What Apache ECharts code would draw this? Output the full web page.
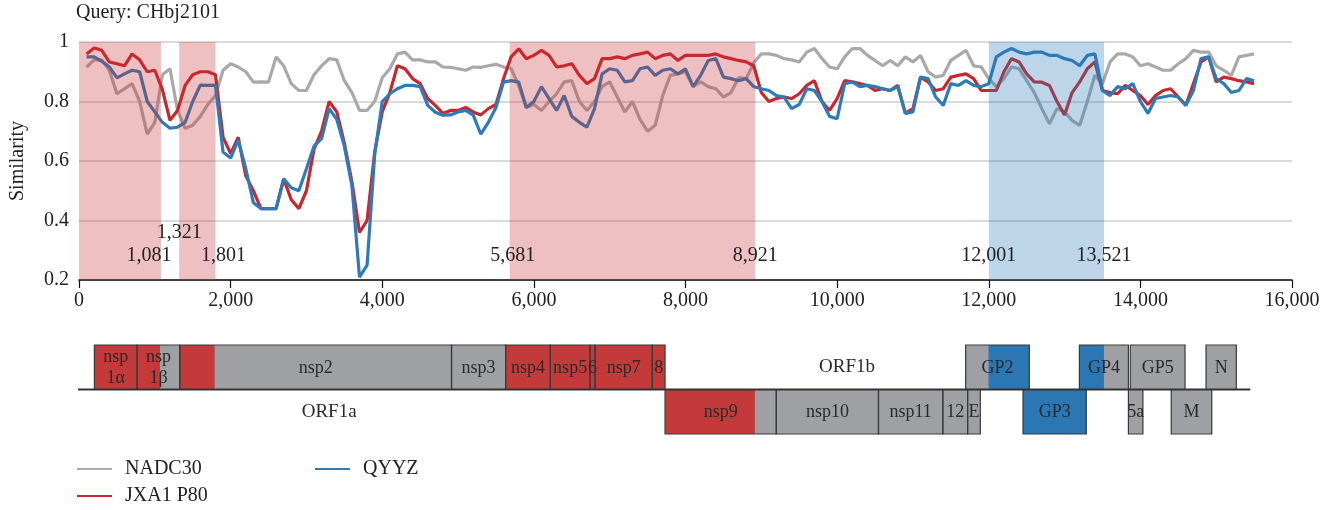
<!DOCTYPE html>
<html>
<head>
<meta charset="utf-8">
<script src="https://cdn.jsdelivr.net/npm/echarts@6/dist/echarts.min.js"></script>
<style>
  html, body { margin: 0; padding: 0; background: #fff; }
</style>
</head>
<body>
<div id="main" style="width: 1336px;height:510px;"></div>

<script type="text/javascript">
  var FONT = 'Liberation Serif';

  // genome positions of the similarity windows
  var positions = [
    100, 200, 300, 400, 500, 600, 700, 800, 900, 1000,
    1100, 1200, 1300, 1400, 1500, 1600, 1700, 1800, 1900, 2000,
    2100, 2200, 2300, 2400, 2500, 2600, 2700, 2800, 2900, 3000,
    3100, 3200, 3300, 3400, 3500, 3600, 3700, 3800, 3900, 4000,
    4100, 4200, 4300, 4400, 4500, 4600, 4700, 4800, 4900, 5000,
    5100, 5200, 5300, 5400, 5500, 5600, 5700, 5800, 5900, 6000,
    6100, 6200, 6300, 6400, 6500, 6600, 6700, 6800, 6900, 7000,
    7100, 7200, 7300, 7400, 7500, 7600, 7700, 7800, 7900, 8000,
    8100, 8200, 8300, 8400, 8500, 8600, 8700, 8800, 8900, 9000,
    9100, 9200, 9300, 9400, 9500, 9600, 9700, 9800, 9900, 10000,
    10100, 10200, 10300, 10400, 10500, 10600, 10700, 10800, 10900, 11000,
    11100, 11200, 11300, 11400, 11500, 11600, 11700, 11800, 11900, 12000,
    12100, 12200, 12300, 12400, 12500, 12600, 12700, 12800, 12900, 13000,
    13100, 13200, 13300, 13400, 13500, 13600, 13700, 13800, 13900, 14000,
    14100, 14200, 14300, 14400, 14500, 14600, 14700, 14800, 14900, 15000,
    15100, 15200, 15300, 15400, 15500];

  var nadc30 = [
    .916, .94, .94, .905, .826, .843, .86, .80, .69, .73,
    .89, .91, .77, .71, .72, .75, .79, .82, .905, .927,
    .916, .90, .865, .866, .865, .95, .92, .86, .837, .837,
    .89, .92, .944, .94, .87, .83, .77, .77, .80, .88,
    .91, .96, .966, .94, .94, .933, .933, .916, .915, .91,
    .905, .916, .915, .92, .925, .916, .91, .854, .78, .79,
    .77, .80, .826, .866, .87, .80, .77, .80, .85, .866,
    .815, .765, .80, .74, .70, .72, .82, .888, .893, .90,
    .85, .866, .85, .843, .815, .83, .88, .877, .93, .96,
    .96, .955, .944, .94, .933, .966, .978, .944, .916, .91,
    .95, .978, .978, .955, .938, .92, .938, .92, .95, .933,
    .955, .90, .882, .888, .938, .955, .972, .92, .916, .877,
    .85, .877, .916, .91, .87, .83, .776, .725, .776, .765,
    .736, .72, .80, .888, .86, .933, .96, .96, .95, .92,
    .927, .916, .905, .905, .927, .944, .972, .966, .966, .92,
    .905, .888, .95, .955, .96];

  var jxa1 = [
    .96, .98, .972, .933, .927, .92, .96, .94, .90, .905,
    .84, .737, .77, .854, .89, .90, .90, .89, .68, .625,
    .68, .55, .50, .44, .44, .44, .54, .47, .44, .50,
    .64, .70, .80, .765, .66, .53, .36, .40, .63, .765,
    .83, .92, .91, .877, .86, .81, .787, .76, .77, .77,
    .78, .765, .755, .776, .79, .877, .95, .977, .944, .955,
    .972, .955, .916, .92, .927, .888, .86, .877, .944, .944,
    .95, .944, .955, .96, .966, .944, .955, .96, .938, .955,
    .955, .955, .955, .96, .95, .944, .938, .933, .92, .83,
    .80, .81, .815, .81, .826, .854, .87, .80, .77, .81,
    .87, .866, .86, .854, .837, .843, .837, .854, .76, .776,
    .882, .866, .837, .843, .882, .888, .893, .877, .837, .837,
    .837, .90, .944, .933, .893, .866, .865, .854, .80, .755,
    .83, .866, .91, .933, .837, .83, .826, .854, .837, .82,
    .79, .82, .837, .843, .815, .787, .86, .933, .95, .866,
    .882, .877, .87, .866, .86];

  var qyyz = [
    .95, .95, .935, .916, .88, .893, .905, .90, .80, .765,
    .73, .71, .714, .73, .80, .855, .854, .855, .63, .61,
    .67, .574, .46, .44, .44, .44, .54, .51, .50, .574,
    .65, .675, .776, .74, .65, .517, .21, .25, .62, .80,
    .826, .843, .854, .854, .85, .787, .764, .754, .755, .765,
    .77, .754, .69, .73, .78, .865, .87, .865, .78, .80,
    .85, .81, .77, .82, .75, .73, .714, .776, .893, .91,
    .905, .866, .87, .91, .916, .888, .905, .91, .893, .91,
    .85, .888, .938, .944, .882, .877, .87, .877, .85, .843,
    .837, .82, .815, .776, .79, .843, .837, .80, .75, .742,
    .86, .866, .85, .854, .85, .843, .837, .85, .76, .765,
    .882, .877, .815, .787, .86, .854, .87, .854, .85, .86,
    .95, .966, .978, .966, .96, .966, .966, .955, .955, .944,
    .938, .92, .955, .96, .837, .82, .85, .843, .86, .80,
    .76, .81, .815, .82, .815, .787, .837, .944, .95, .877,
    .86, .83, .837, .877, .87];

  // recombination regions: start, end, parent
  var regionStart = [0, 1321, 5681, 12001];
  var regionEnd = [1081, 1801, 8921, 13521];
  var regionParent = ['JXA1', 'JXA1', 'JXA1', 'QYYZ'];

  // breakpoint labels
  var breakPos = [1081, 1321, 1801, 5681, 8921, 12001, 13521];
  var breakLabelY = [0.281, 0.358, 0.281, 0.281, 0.281, 0.281, 0.281];
  var breakShift = [-12, 0, 8, 3, 0, 0, 0];

  // genome map
  var geneNames = ['nsp\n1α', 'nsp\n1β', 'nsp2', 'nsp3', 'nsp4', 'nsp5', '6', 'nsp7', '8', 'nsp9', 'nsp10', 'nsp11', '12', 'E',
    'GP2', 'GP3', 'GP4', 'GP5', '5a', 'M', 'N'];
  var geneStart = [216, 779, 1342, 4923, 5636, 6225, 6747, 6814, 7569, 7737, 9203, 10550, 11398, 11725,
    11699, 12455, 13198, 13869, 13844, 14408, 14867];
  var geneEnd = [779, 1342, 4923, 5636, 6225, 6747, 6814, 7569, 7737, 9203, 10550, 11398, 11725, 11892,
    12538, 13289, 13844, 14590, 14035, 14943, 15266];
  var geneRow = [0, 0, 0, 0, 0, 0, 0, 0, 0, 1, 1, 1, 1, 1, 0, 1, 0, 0, 1, 1, 0];

  var hlStart = [216, 1342, 5636, 7737, 12001, 12455, 13198];
  var hlEnd = [1081, 1801, 7737, 8921, 12538, 13289, 13521];
  var hlRow = [0, 0, 0, 1, 0, 1, 0];
  var hlParent = ['JXA1', 'JXA1', 'JXA1', 'JXA1', 'QYYZ', 'QYYZ', 'QYYZ'];

  var orfNames = ['ORF1a', 'ORF1b'];
  var orfPos = [3310, 10135];
  var orfRow = [1, 0];
  var genomeEnd = 15450;

  var colors = { NADC30: '#a9a9ab', JXA1: '#c8282d', QYYZ: '#2e7bb7' };
  var shade = { JXA1: 'rgba(200,45,50,0.3)', QYYZ: 'rgba(40,120,180,0.31)' };
  var mapFill = { gray: '#9fa0a4', JXA1: '#c43a3a', QYYZ: '#2a77b3' };

  function pairs(vals) {
    return positions.map(function (p, i) { return [p, vals[i]]; });
  }

  var lineStyle = function (c) {
    return { type: 'line', symbol: 'none', color: c, lineStyle: { width: 3.2, color: c }, xAxisIndex: 0, yAxisIndex: 0 };
  };

  var sNadc = lineStyle(colors.NADC30); sNadc.name = 'NADC30'; sNadc.data = pairs(nadc30);
  var sJxa = lineStyle(colors.JXA1); sJxa.name = 'JXA1 P80'; sJxa.data = pairs(jxa1);
  var sQyyz = lineStyle(colors.QYYZ); sQyyz.name = 'QYYZ'; sQyyz.data = pairs(qyyz);

  var legendText = { fontFamily: FONT, fontSize: 20, color: '#222', padding: [0, 0, 0, 8] };

  var option = {
    animation: false,
    title: {
      text: 'Query: CHbj2101', left: 71, top: -2,
      textStyle: { fontFamily: FONT, fontSize: 20, fontWeight: 'normal', color: '#222' }
    },
    legend: [
      { data: ['NADC30'], left: 77, top: 459, padding: 0, icon: 'rect', itemWidth: 35, itemHeight: 2, textStyle: legendText },
      { data: ['QYYZ'], left: 315, top: 459, padding: 0, icon: 'rect', itemWidth: 35, itemHeight: 2, textStyle: legendText },
      { data: ['JXA1 P80'], left: 77, top: 486, padding: 0, icon: 'rect', itemWidth: 35, itemHeight: 2, textStyle: legendText }
    ],
    grid: [
      { left: 78, right: 44, top: 42, bottom: 230 },
      { left: 78, right: 44, top: 345, height: 89 }
    ],
    xAxis: [
      {
        type: 'value', min: 0, max: 16000, interval: 2000, gridIndex: 0,
        axisLine: { lineStyle: { color: '#111', width: 1.5 } },
        axisTick: { show: true, length: 8, lineStyle: { color: '#111', width: 1.2 } },
        axisLabel: {
          fontFamily: FONT, fontSize: 20, color: '#222', margin: 11,
          formatter: function (v) { return v.toLocaleString('en-US'); }
        },
        splitLine: { show: false }
      },
      { type: 'value', min: 0, max: 16000, gridIndex: 1, show: false }
    ],
    yAxis: [
      {
        type: 'value', min: 0.2, max: 1, interval: 0.2, gridIndex: 0,
        name: 'Similarity', nameLocation: 'middle', nameGap: 51, nameRotate: 90,
        nameTextStyle: { fontFamily: FONT, fontSize: 20, color: '#222' },
        axisLine: { show: false },
        axisTick: { show: false },
        axisLabel: {
          fontFamily: FONT, fontSize: 20, color: '#222', margin: 10,
          formatter: function (v) { return String(+v.toFixed(1)); }
        },
        splitLine: { lineStyle: { color: '#dadada', width: 2 } }
      },
      { type: 'value', min: 0, max: 2, inverse: true, gridIndex: 1, show: false }
    ],
    series: [
      sNadc, sJxa, sQyyz,
      {
        // shaded recombination regions, drawn over the lines
        type: 'custom', xAxisIndex: 0, yAxisIndex: 0, z: 10, silent: true,
        data: regionStart.map(function (s, i) { return [s, regionEnd[i]]; }),
        renderItem: function (params, api) {
          var p0 = api.coord([api.value(0), 1]);
          var p1 = api.coord([api.value(1), 0.2]);
          return {
            type: 'rect',
            shape: { x: p0[0], y: p0[1], width: p1[0] - p0[0], height: p1[1] - p0[1] },
            style: { fill: shade[regionParent[params.dataIndex]] }
          };
        }
      },
      {
        // breakpoint labels
        type: 'custom', xAxisIndex: 0, yAxisIndex: 0, z: 11, silent: true,
        data: breakPos.map(function (p, i) { return [p, breakLabelY[i]]; }),
        renderItem: function (params, api) {
          var p = api.coord([api.value(0), api.value(1)]);
          return {
            type: 'text',
            style: {
              x: p[0] + breakShift[params.dataIndex], y: p[1],
              text: breakPos[params.dataIndex].toLocaleString('en-US'),
              textAlign: 'center', textVerticalAlign: 'middle',
              font: '20px "' + FONT + '"', fill: '#222'
            }
          };
        }
      },
      {
        // gene box fills
        type: 'custom', xAxisIndex: 1, yAxisIndex: 1, z: 2, silent: true,
        data: geneStart.map(function (s, i) { return [s, geneEnd[i], geneRow[i]]; }),
        renderItem: function (params, api) {
          var r = api.value(2);
          var p0 = api.coord([api.value(0), r]);
          var p1 = api.coord([api.value(1), r + 1]);
          return {
            type: 'rect',
            shape: { x: p0[0], y: p0[1], width: p1[0] - p0[0], height: p1[1] - p0[1] },
            style: { fill: mapFill.gray }
          };
        }
      },
      {
        // parent colouring of the genes
        type: 'custom', xAxisIndex: 1, yAxisIndex: 1, z: 3, silent: true,
        data: hlStart.map(function (s, i) { return [s, hlEnd[i], hlRow[i]]; }),
        renderItem: function (params, api) {
          var r = api.value(2);
          var p0 = api.coord([api.value(0), r]);
          var p1 = api.coord([api.value(1), r + 1]);
          return {
            type: 'rect',
            shape: { x: p0[0], y: p0[1], width: p1[0] - p0[0], height: p1[1] - p0[1] },
            style: { fill: mapFill[hlParent[params.dataIndex]] }
          };
        }
      },
      {
        // gene outlines and names
        type: 'custom', xAxisIndex: 1, yAxisIndex: 1, z: 4, silent: true,
        data: geneStart.map(function (s, i) { return [s, geneEnd[i], geneRow[i]]; }),
        renderItem: function (params, api) {
          var r = api.value(2);
          var p0 = api.coord([api.value(0), r]);
          var p1 = api.coord([api.value(1), r + 1]);
          return {
            type: 'group',
            children: [
              {
                type: 'rect',
                shape: { x: p0[0], y: p0[1], width: p1[0] - p0[0], height: p1[1] - p0[1] },
                style: { fill: 'none', stroke: '#3a3a3a', lineWidth: 1.2 }
              },
              {
                type: 'text',
                style: {
                  x: (p0[0] + p1[0]) / 2, y: (p0[1] + p1[1]) / 2 + 1,
                  text: geneNames[params.dataIndex],
                  textAlign: 'center', textVerticalAlign: 'middle', lineHeight: 21,
                  font: '18px "' + FONT + '"', fill: '#2a2a2a'
                }
              }
            ]
          };
        }
      },
      {
        // genome baseline
        type: 'custom', xAxisIndex: 1, yAxisIndex: 1, z: 5, silent: true,
        data: [[0, genomeEnd]],
        renderItem: function (params, api) {
          var p0 = api.coord([api.value(0), 1]);
          var p1 = api.coord([api.value(1), 1]);
          return {
            type: 'line',
            shape: { x1: p0[0], y1: p0[1], x2: p1[0], y2: p1[1] },
            style: { stroke: '#333', lineWidth: 2 }
          };
        }
      },
      {
        // ORF labels
        type: 'custom', xAxisIndex: 1, yAxisIndex: 1, z: 5, silent: true,
        data: orfPos.map(function (p, i) { return [p, orfRow[i] + 0.5]; }),
        renderItem: function (params, api) {
          var p = api.coord([api.value(0), api.value(1)]);
          return {
            type: 'text',
            style: {
              x: p[0], y: p[1], text: orfNames[params.dataIndex],
              textAlign: 'center', textVerticalAlign: 'middle',
              font: '19px "' + FONT + '"', fill: '#2a2a2a'
            }
          };
        }
      }
    ]
  };

  var myChart = echarts.init(document.getElementById('main'));
  myChart.setOption(option);
</script>
</body>
</html>
